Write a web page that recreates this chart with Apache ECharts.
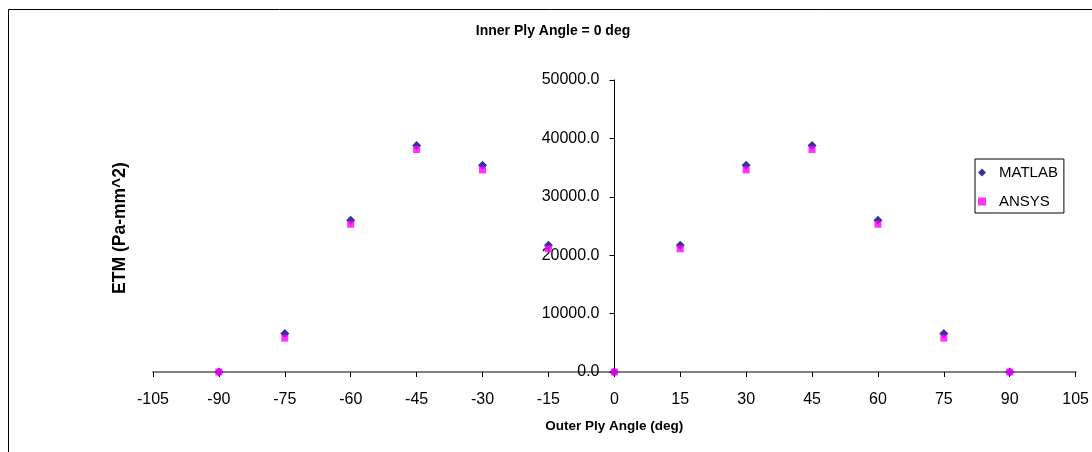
<!DOCTYPE html>
<html>
<head>
<meta charset="utf-8">
<style>
  html, body { margin: 0; padding: 0; background: #fff; }
  #chart { width: 1092px; height: 452px; }
</style>
<script src="https://cdn.jsdelivr.net/npm/echarts@6/dist/echarts.min.js"></script>
</head>
<body>
<div id="chart"></div>
<script>
// Outer ply angle (deg) for each laminate case
const angles = [-90, -75, -60, -45, -30, -15, 0, 15, 30, 45, 60, 75, 90];
// ETM (Pa-mm^2) from each solver
const matlabETM = [0, 6600, 26000, 38800, 35400, 21700, 0, 21700, 35400, 38800, 26000, 6600, 0];
const ansysETM  = [0, 5800, 25300, 38100, 34600, 21100, 0, 21100, 34600, 38100, 25300, 5800, 0];

const seriesNames = ['MATLAB', 'ANSYS'];
const titleText = 'Inner Ply Angle = 0 deg';
const xAxisTitle = 'Outer Ply Angle (deg)';
const yAxisTitle = 'ETM (Pa-mm^2)';

const FONT = '"Liberation Sans", Arial, sans-serif';

const pairs = (xs, ys) => xs.map((x, i) => [x, ys[i]]);

// plot area
const GRID = { left: 153, right: 16, top: 80, bottom: 80 };
const X_MIN = -105, X_MAX = 105;
const plotWidth = 1092 - GRID.left - GRID.right;
// the value axis crosses the horizontal axis at angle 0
const yAxisShift = -plotWidth * (0 - X_MIN) / (X_MAX - X_MIN);

const chart = echarts.init(document.getElementById('chart'), null, { renderer: 'canvas' });

chart.setOption({
  backgroundColor: '#fff',
  animation: false,
  textStyle: { fontFamily: FONT },
  graphic: [{
    type: 'rect',
    shape: { x: 8.5, y: 9.5, width: 1200, height: 600 },
    style: { fill: 'none', stroke: '#000', lineWidth: 1 },
    silent: true
  }, {
    type: 'text',
    x: 553,
    y: 31,
    style: {
      text: titleText,
      font: 'bold 14px ' + FONT,
      fill: '#000',
      align: 'center',
      verticalAlign: 'middle'
    },
    silent: true
  }, {
    type: 'text',
    x: 120,
    y: 228,
    rotation: Math.PI / 2,
    style: {
      text: yAxisTitle,
      font: 'bold 17.5px ' + FONT,
      fill: '#000',
      align: 'center',
      verticalAlign: 'middle'
    },
    silent: true
  }],
  legend: {
    orient: 'vertical',
    left: 975,
    top: 159,
    padding: [6, 6, 4, 3],
    itemGap: 14,
    itemWidth: 8,
    itemHeight: 8,
    borderColor: '#000',
    borderWidth: 1,
    textStyle: { fontFamily: FONT, fontSize: 15, color: '#000', padding: [0, 0, 0, 8] },
    data: [
      { name: seriesNames[0], icon: 'diamond' },
      { name: seriesNames[1], icon: 'rect' }
    ]
  },
  grid: { left: GRID.left, right: GRID.right, top: GRID.top, bottom: GRID.bottom, containLabel: false },
  xAxis: {
    type: 'value',
    min: X_MIN,
    max: X_MAX,
    interval: 15,
    name: xAxisTitle,
    nameLocation: 'middle',
    nameGap: 47,
    nameTextStyle: { fontFamily: FONT, fontSize: 13.5, fontWeight: 'bold', color: '#000' },
    axisLine: { onZero: true, lineStyle: { color: '#808080', width: 2 } },
    axisTick: { show: true, inside: false, length: 5, lineStyle: { color: '#000', width: 1 } },
    axisLabel: { fontFamily: FONT, fontSize: 16, color: '#000', margin: 20 },
    splitLine: { show: false }
  },
  yAxis: {
    type: 'value',
    min: 0,
    max: 50000,
    interval: 10000,
    offset: yAxisShift,
    axisLine: { show: true, onZero: false, lineStyle: { color: '#000', width: 1 } },
    axisTick: { show: true, inside: false, length: 5, lineStyle: { color: '#000', width: 1 } },
    axisLabel: {
      fontFamily: FONT, fontSize: 16, color: '#000', margin: 15,
      formatter: v => v.toFixed(1)
    },
    splitLine: { show: false }
  },
  series: [{
    name: seriesNames[0],
    type: 'scatter',
    symbol: 'diamond',
    symbolSize: 9,
    itemStyle: { color: '#000080' },
    data: pairs(angles, matlabETM),
    z: 3
  }, {
    name: seriesNames[1],
    type: 'scatter',
    symbol: 'rect',
    symbolSize: 7,
    itemStyle: { color: '#FF00FF' },
    data: pairs(angles, ansysETM),
    z: 4
  }]
});
</script>
</body>
</html>
